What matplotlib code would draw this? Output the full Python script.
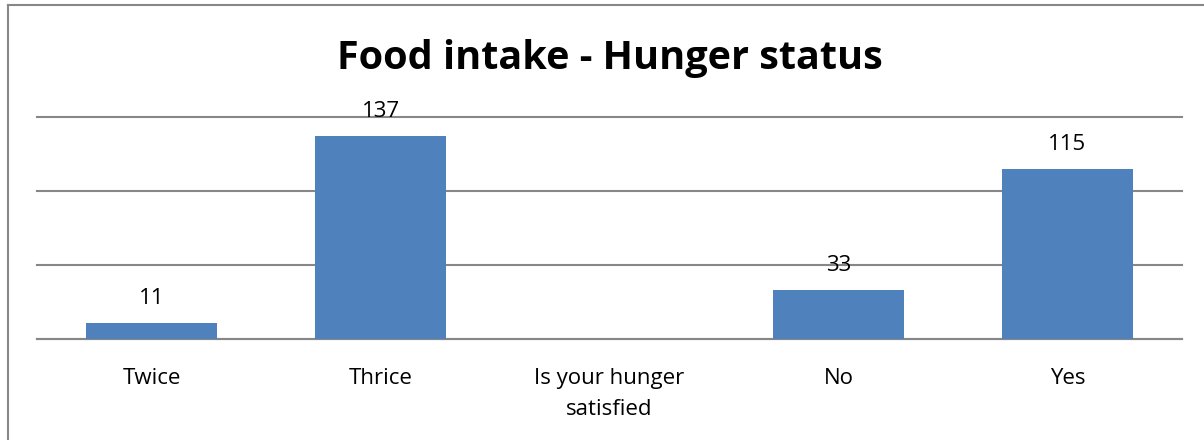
import matplotlib.pyplot as plt
import numpy as np
from matplotlib.lines import Line2D

categories = ['Twice', 'Thrice', 'Is your hunger\nsatisfied', 'No', 'Yes']
counts = [11, 137, None, 33, 115]

bar_color = '#4F81BD'
grid_color = '#878787'

plt.rcParams['font.family'] = ['Open Sans', 'DejaVu Sans']

fig = plt.figure(figsize=(12.04, 4.4), dpi=100)
ax = fig.add_axes([37 / 1204, 101 / 440, 1145 / 1204, 222 / 440])

x = np.arange(len(categories))
heights = [np.nan if c is None else c for c in counts]
ax.bar(x, heights, width=0.57, color=bar_color, zorder=3)

for xi, c in zip(x, counts):
    if c is None:
        continue
    ax.annotate(str(c), (xi, c), xytext=(0, 13.5), textcoords='offset points',
                ha='center', va='baseline', fontsize=16, color='black', zorder=4)

ax.set_xlim(-0.5, len(categories) - 0.5)
ax.set_ylim(0, 150)
ax.set_yticks([0, 50, 100, 150])
ax.yaxis.grid(True, color=grid_color, linewidth=1.5, zorder=0)
for gl in ax.yaxis.get_gridlines():
    gl.set_clip_on(False)
ax.tick_params(axis='y', left=False, labelleft=False)
ax.set_xticks(x)
ax.set_xticklabels(categories, fontsize=16, linespacing=1.6)
ax.tick_params(axis='x', length=0, pad=21)
for s in ['top', 'right', 'left']:
    ax.spines[s].set_visible(False)
ax.spines['bottom'].set_color(grid_color)
ax.spines['bottom'].set_linewidth(1.5)

fig.text(610 / 1204, 1 - 59 / 440, 'Food intake - Hunger status', ha='center', va='center',
         fontsize=28.5, fontweight='bold')

# outer chart frame (only left and top edges are in view)
fig.add_artist(Line2D([7.5 / 1204, 7.5 / 1204], [0, 1 - 5.5 / 440], color=grid_color, linewidth=1.5,
                      transform=fig.transFigure))
fig.add_artist(Line2D([7.5 / 1204, 1], [1 - 5.5 / 440, 1 - 5.5 / 440], color=grid_color, linewidth=1.5,
                      transform=fig.transFigure))

fig.savefig('out.png', dpi=100)
